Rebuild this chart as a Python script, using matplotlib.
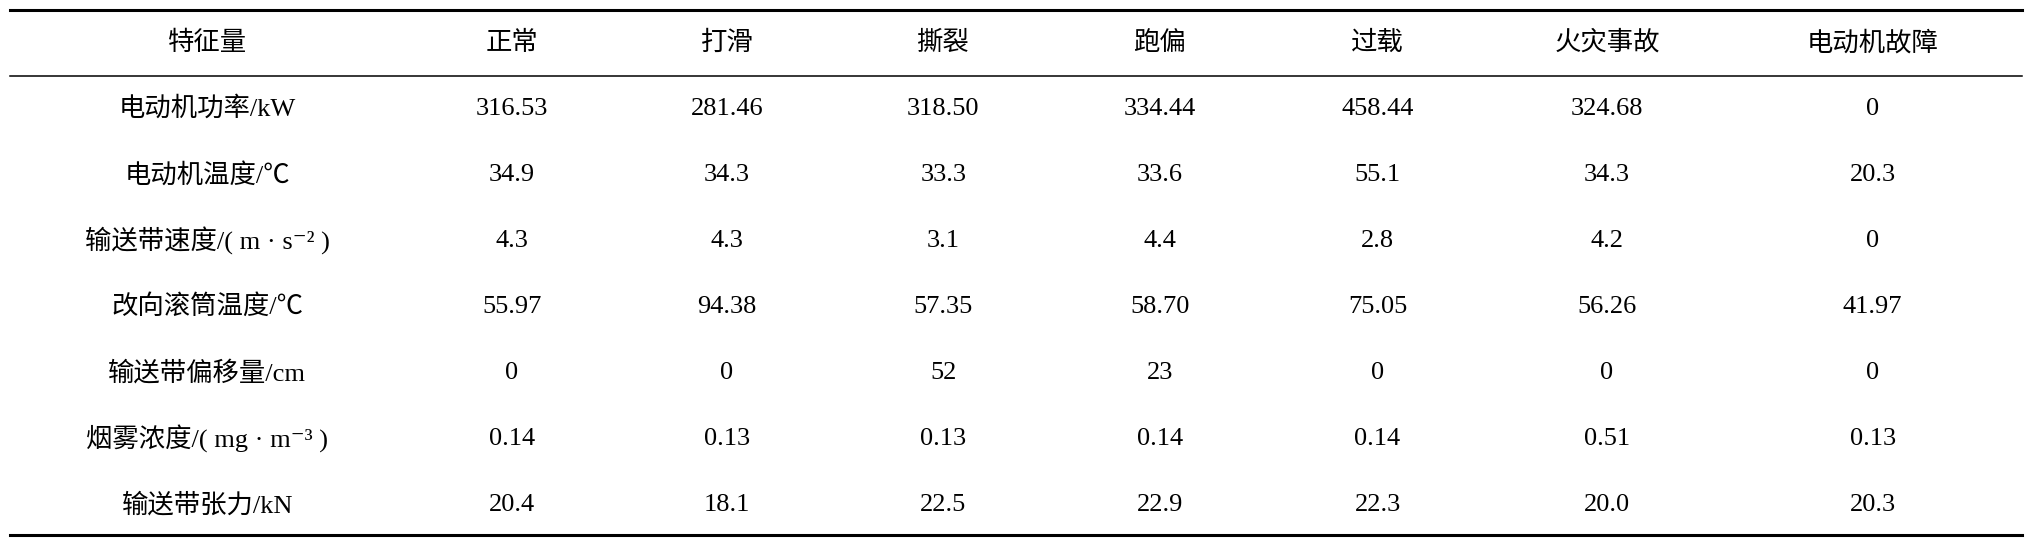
import matplotlib
matplotlib.use("Agg")
import matplotlib.pyplot as plt

# ---- datos de la tabla ----
encabezados = ["特征量", "正常", "打滑", "撕裂", "跑偏", "过载", "火灾事故", "电动机故障"]
filas = [
    "电动机功率/kW",
    "电动机温度/℃",
    "输送带速度/( m · s⁻² )",
    "改向滚筒温度/℃",
    "输送带偏移量/cm",
    "烟雾浓度/( mg · m⁻³ )",
    "输送带张力/kN",
]
valores = [
    ["316.53", "281.46", "318.50", "334.44", "458.44", "324.68", "0"],
    ["34.9", "34.3", "33.3", "33.6", "55.1", "34.3", "20.3"],
    ["4.3", "4.3", "3.1", "4.4", "2.8", "4.2", "0"],
    ["55.97", "94.38", "57.35", "58.70", "75.05", "56.26", "41.97"],
    ["0", "0", "52", "23", "0", "0", "0"],
    ["0.14", "0.13", "0.13", "0.14", "0.14", "0.51", "0.13"],
    ["20.4", "18.1", "22.5", "22.9", "22.3", "20.0", "20.3"],
]

fuente = ["Liberation Serif", "Noto Sans CJK SC", "DejaVu Sans"]

fig = plt.figure(figsize=(20.32, 5.44), dpi=100)
ax = fig.add_axes([0, 0, 1, 1])
ax.set_xlim(0, 1568)
ax.set_ylim(420, 0)
ax.axis("off")

# centros de columnas y filas (coordenadas de referencia)
xs = [160, 395, 561, 728, 895, 1063, 1240, 1445]
y_head = 33
ys = [84 + 51 * i for i in range(len(filas))]

# lineas de la tabla
ax.plot([8, 1560], [8, 8], color="black", lw=2.2)
ax.plot([8, 1560], [59, 59], color="black", lw=1.1)
ax.plot([8, 1560], [413, 413], color="black", lw=2.2)

for x, t in zip(xs, encabezados):
    ax.text(x, y_head, t, ha="center", va="center", fontsize=19, family=fuente)

for y, nombre, fila in zip(ys, filas, valores):
    ax.text(xs[0], y, nombre, ha="center", va="center", fontsize=19, family=fuente)
    for x, v in zip(xs[1:], fila):
        ax.text(x, y, v, ha="center", va="center", fontsize=19, family=fuente)

fig.savefig("out.png", dpi=100, facecolor="white")
